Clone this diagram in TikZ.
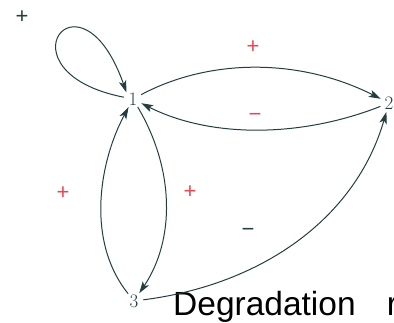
\documentclass[tikz,border=0pt]{standalone}
\usepackage{fontspec}
\newfontfamily\labelfont{Liberation Sans}
\usetikzlibrary{arrows.meta}
\definecolor{edgecol}{RGB}{35,62,64}
\definecolor{signred}{RGB}{232,72,82}

\begin{document}
\begin{tikzpicture}[
  x=1pt, y=-1pt,
  >={Stealth[length=12pt,width=7.5pt,inset=3pt]},
  state/.style={circle, inner sep=1pt, text=edgecol,
                font=\fontsize{19}{19}\selectfont},
  sign/.style={text=signred, inner sep=0pt,
               font=\labelfont\fontsize{22}{22}\selectfont},
  darksign/.style={sign, text=edgecol},
  flow/.style={->, draw=edgecol, line width=1pt},
]
\useasboundingbox (0,0) rectangle (394,322);

% states
\node[state] (s1) at (133,99) {1};
\node[state] (s2) at (389,103) {2};
\node[state] (s3) at (134,301) {3};

% signs
\node[darksign] (pself) at (22,17) {+};
\node[sign] (p12) at (253,47) {+};
\node[sign] (m21) at (255,117) {−};
\node[sign] (p31) at (63,193) {+};
\node[sign] (p13) at (190,192) {+};
\node[darksign] (m32) at (248,232) {−};

% caption
\node[anchor=base west, inner sep=0pt, font=\labelfont\fontsize{33.5}{34}\selectfont]
  (deg) at (173,315) {Degradation\hspace{22pt} r};

% interactions
\draw[flow] (s1) .. controls (-5,72) and (80,-40) .. (s1.north west);
\draw[flow] (s1) .. controls (210,58) and (300,58) .. (s2);
\draw[flow] (s2) .. controls (300,138) and (210,138) .. (s1);
\draw[flow] (s1) .. controls (175,170) and (175,240) .. (s3);
\draw[flow] (s3) .. controls (85,240) and (100,160) .. (s1);
\draw[flow] (s3) .. controls (260,285) and (355,220) .. (s2);
\end{tikzpicture}
\end{document}
